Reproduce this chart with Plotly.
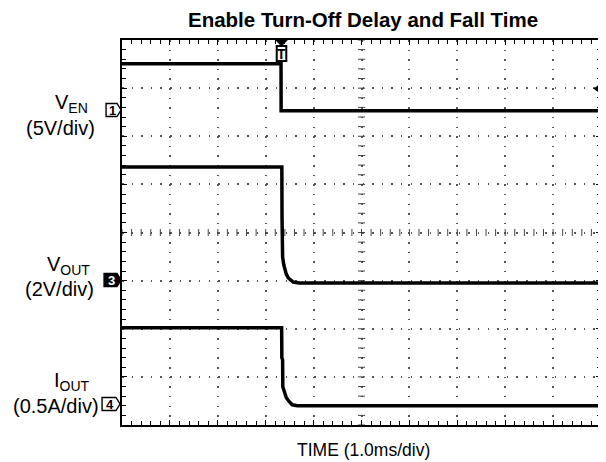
import numpy as np
import plotly.graph_objects as go

# ---------------- data (time in ms from left edge of screen, 1.0 ms/div) ----
ven_t = [0.0, 3.32, 3.322, 10.0]
ven_v = [4.89, 4.89, 0.0, 0.0]

vout_t = [0.0, 3.337, 3.341, 3.353, 3.378, 3.399, 3.430, 3.472, 3.514, 3.576, 3.701, 10.0]
vout_v = [4.82, 4.82, 2.74, 1.08, 0.75, 0.54, 0.37, 0.21, 0.12, 0.04, 0.0, 0.0]

iout_t = [0.0, 3.333, 3.337, 3.353, 3.357, 3.389, 3.430, 3.493, 3.555, 3.659, 10.0]
iout_a = [0.811, 0.811, 0.499, 0.478, 0.198, 0.146, 0.083, 0.042, 0.010, 0.0, 0.0]

# channel settings: units per division, ground position (divisions from bottom)
ch_scale = {"ven": 5.0, "vout": 2.0, "iout": 0.5}
ch_ground = {"ven": 6.53, "vout": 2.95, "iout": 0.40}

trigger_time = 3.33      # ms
trigger_level = 2.29     # V on VEN

title_text = "Enable Turn-Off Delay and Fall Time"
x_label = "TIME (1.0ms/div)"
n_xdiv, n_ydiv = 10, 8

# ---------------- layout helpers (screen pixel coordinates) ----------------
OFF = 8                      # default page body margin
SW, SH = 606, 462            # screen size
L, R, T, B = 122, 603, 40, 425   # plot area on screen
W, H = SW - OFF, SH - OFF

def px(x):
    return (x - L) / (R - L)
def py(y):
    return (B - y) / (B - T)

FONT = "Liberation Sans, Arial, Helvetica, sans-serif"

def ch_range(key):
    g, s = ch_ground[key], ch_scale[key]
    return [-g * s, (n_ydiv - g) * s]

fig = go.Figure()

# centre graticule tick marks
cx = np.arange(0, n_xdiv + 1e-9, 0.2)
cy = np.arange(0, n_ydiv + 1e-9, 0.2)
fig.add_trace(go.Scatter(x=cx, y=np.full_like(cx, n_ydiv / 2), mode="markers",
                         marker=dict(symbol="line-ns", size=5, line=dict(width=1, color="#444")),
                         hoverinfo="skip", showlegend=False, xaxis="x", yaxis="y"))
fig.add_trace(go.Scatter(x=np.full_like(cy, n_xdiv / 2), y=cy, mode="markers",
                         marker=dict(symbol="line-ew", size=5, line=dict(width=1, color="#444")),
                         hoverinfo="skip", showlegend=False, xaxis="x", yaxis="y"))

line_style = dict(color="black", width=3.5)
fig.add_trace(go.Scatter(x=ven_t, y=ven_v, mode="lines", line=line_style,
                         showlegend=False, xaxis="x", yaxis="y2"))
fig.add_trace(go.Scatter(x=vout_t, y=vout_v, mode="lines", line=line_style,
                         showlegend=False, xaxis="x", yaxis="y3"))
fig.add_trace(go.Scatter(x=iout_t, y=iout_a, mode="lines", line=line_style,
                         showlegend=False, xaxis="x", yaxis="y4"))
# trigger level arrow
fig.add_trace(go.Scatter(x=[9.93], y=[trigger_level], mode="markers",
                         marker=dict(symbol="triangle-left", size=8, color="black"),
                         cliponaxis=False, showlegend=False, xaxis="x", yaxis="y2"))

grid = dict(showgrid=True, gridcolor="#555", gridwidth=1.5, griddash="1.5px,8.12px",
            zeroline=False, showticklabels=False, showline=True, linecolor="black",
            linewidth=2, mirror="ticks", ticks="inside", ticklen=5, tickcolor="black",
            tickwidth=1)

fig.update_layout(
    width=W, height=H,
    margin=dict(l=L - OFF, r=SW - R, t=T - OFF, b=H - (B - OFF)),
    paper_bgcolor="white", plot_bgcolor="white",
    xaxis=dict(range=[0, n_xdiv], dtick=1, tick0=0,
               minor=dict(dtick=0.2, ticks="inside", ticklen=4, tickcolor="black", showgrid=False),
               **grid),
    yaxis=dict(range=[0, n_ydiv], dtick=1, tick0=0,
               minor=dict(dtick=0.2, ticks="inside", ticklen=4, tickcolor="black", showgrid=False),
               **grid),
    yaxis2=dict(range=ch_range("ven"), overlaying="y", visible=False),
    yaxis3=dict(range=ch_range("vout"), overlaying="y", visible=False),
    yaxis4=dict(range=ch_range("iout"), overlaying="y", visible=False),
    font=dict(family=FONT, color="black"),
)

ann = []
ann.append(dict(text="<b>" + title_text + "</b>", x=px(364), y=py(19), xref="paper", yref="paper",
                showarrow=False, font=dict(size=20.5, family=FONT), xanchor="center", yanchor="middle"))
ann.append(dict(text=x_label, x=px(365), y=py(450), xref="paper", yref="paper",
                showarrow=False, font=dict(size=17.5, family=FONT), xanchor="center", yanchor="middle"))

labels = [
    ("V<sub>EN</sub>", 71, 103), ("(5V/div)", 60, 128),
    ("V<sub>OUT</sub>", 68, 265), ("(2V/div)", 59, 289),
    ("I<sub>OUT</sub>", 72, 381), ("(0.5A/div)", 56, 406),
]
for txt, xx, yy in labels:
    ann.append(dict(text=txt, x=px(xx), y=py(yy), xref="paper", yref="paper", showarrow=False,
                    font=dict(size=20, family=FONT), xanchor="center", yanchor="middle"))

shapes = []
markers = [("1", 106, 117, 110, False), ("3", 104, 117, 280, True), ("4", 102, 116, 404, False)]
for lab, x0, x1, yc, filled in markers:
    h = 6.5
    tip = x1 + 4
    path = (f"M {px(x0)},{py(yc-h)} L {px(x1)},{py(yc-h)} L {px(tip)},{py(yc)} "
            f"L {px(x1)},{py(yc+h)} L {px(x0)},{py(yc+h)} Z")
    shapes.append(dict(type="path", path=path, xref="paper", yref="paper",
                       line=dict(color="black", width=1.4),
                       fillcolor="black" if filled else "white"))
    ann.append(dict(text="<b>" + lab + "</b>", x=px((x0 + x1) / 2 + 1), y=py(yc + 0.5), xref="paper",
                    yref="paper", showarrow=False,
                    font=dict(size=13, family=FONT, color="white" if filled else "black"),
                    xanchor="center", yanchor="middle"))

# trigger position flag
shapes.append(dict(type="path", xref="x", yref="paper",
                   path=f"M {trigger_time-0.12},{py(40)} L {trigger_time+0.12},{py(40)} L {trigger_time},{py(46)} Z",
                   fillcolor="black", line=dict(color="black", width=1)))
shapes.append(dict(type="rect", xref="x", yref="paper",
                   x0=trigger_time - 0.1, x1=trigger_time + 0.1, y0=py(61), y1=py(46),
                   fillcolor="white", line=dict(color="black", width=2)))
ann.append(dict(text="<b>T</b>", x=trigger_time, y=py(54), xref="x", yref="paper",
                showarrow=False, font=dict(size=14, family=FONT), xanchor="center", yanchor="middle"))

fig.update_layout(annotations=ann, shapes=shapes)
fig.write_html("out.html")
